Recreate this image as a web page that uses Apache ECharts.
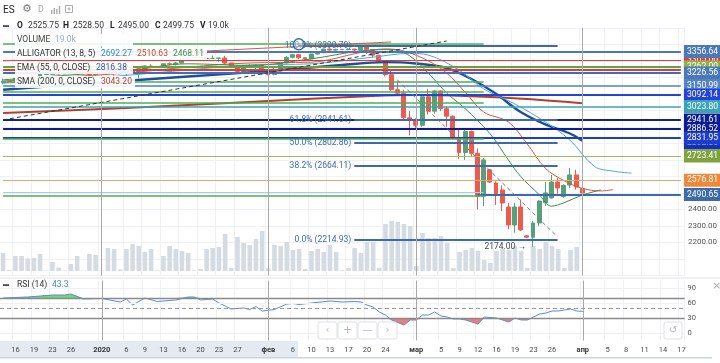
<!DOCTYPE html>
<html><head><meta charset="utf-8">
<script src="https://cdn.jsdelivr.net/npm/echarts@6/dist/echarts.min.js"></script>
<style>html,body{margin:0;padding:0;background:#fff;}#c{width:720px;height:363px;}</style>
</head><body><div id="c"></div>
<script>
const dates = ['12-13','12-15','12-16','12-17','12-18','12-19','12-20','12-22','12-23','12-24','12-25','12-26','12-27','12-29','12-30','12-31',
'01-01','01-02','01-03','01-05','01-06','01-07','01-08','01-09','01-10','01-12','01-13','01-14','01-15','01-16','01-17','01-19','01-20','01-21','01-22','01-23','01-24','01-26','01-27','01-28','01-29','01-30','01-31',
'02-02','02-03','02-04','02-05','02-06','02-07','02-09','02-10','02-11','02-12','02-13','02-14','02-16','02-17','02-18','02-19','02-20','02-21','02-23','02-24','02-25','02-26','02-27','02-28',
'03-01','03-02','03-03','03-04','03-05','03-06','03-08','03-09','03-10','03-11','03-12','03-13','03-15','03-16','03-17','03-18','03-19','03-20','03-22','03-23','03-24','03-25','03-26','03-27','03-29','03-30','03-31',
'04-01','04-02','04-03','04-04','04-05','04-06','04-07','04-08','04-09','04-10','04-11','04-12','04-13','04-14','04-15','04-16','04-17'];

const opens  = [3168,3175,3176,3193,3192,3191,3205,3217,3218,3222,3221,3223,3237,3236,3235,3217,3230,3233,3257,3231,3222,3242,3233,3252,3269,3262,3263,3282,3280,3287,3312,3321,3319,3316,3314,3315,3317,3287,3262,3236,3267,3262,3275,3221,3217,3239,3287,3321,3337,3319,3312,3341,3349,3371,3365,3369,3368,3371,3365,3383,3369,3334,3294,3216,3125,3104,2955,2940,2910,3082,2995,3118,3010,2965,2830,2745,2872,2740,2480,2640,2560,2518,2415,2306,2415,2240,2232,2318,2440,2470,2566,2478,2548,2609,2525.75];
const highs  = [3192,3178,3197,3199,3199,3207,3222,3220,3227,3225,3224,3239,3246,3238,3239,3233,3235,3260,3259,3233,3244,3247,3264,3273,3279,3265,3284,3290,3294,3314,3325,3325,3323,3327,3332,3321,3330,3289,3265,3274,3283,3279,3281,3227,3259,3291,3330,3339,3339,3321,3343,3359,3374,3376,3373,3372,3375,3374,3389,3391,3371,3336,3300,3250,3180,3125,2995,2952,3088,3130,3122,3122,3020,2968,2885,2882,2878,2770,2712,2645,2570,2545,2440,2440,2460,2245,2330,2455,2566,2610,2590,2552,2651,2640,2528.5];
const lows   = [3158,3172,3174,3188,3188,3189,3200,3215,3214,3217,3219,3221,3230,3233,3211,3207,3228,3229,3210,3218,3209,3229,3194,3250,3256,3259,3259,3274,3272,3285,3310,3317,3313,3299,3311,3292,3279,3257,3224,3231,3259,3229,3214,3211,3213,3237,3284,3315,3309,3309,3307,3339,3347,3349,3359,3365,3364,3349,3363,3340,3321,3288,3205,3118,3093,2945,2848,2895,2900,2975,2980,2995,2900,2822,2705,2700,2720,2400,2420,2560,2427,2390,2280,2260,2270,2226,2174,2300,2420,2465,2495,2470,2530,2520,2495];
const closes = [3175,3176,3193,3192,3191,3205,3217,3218,3222,3221,3223,3237,3236,3235,3217,3230,3233,3257,3231,3222,3242,3233,3252,3269,3262,3263,3282,3280,3287,3312,3321,3319,3316,3314,3315,3317,3287,3262,3236,3267,3262,3275,3221,3217,3239,3287,3321,3337,3319,3312,3341,3349,3371,3365,3369,3368,3371,3365,3383,3369,3334,3294,3216,3125,3104,2955,2940,2910,3082,2995,3118,3010,2965,2830,2745,2872,2740,2480,2700,2566,2487,2439,2306,2415,2276,2232,2318,2451,2500,2566,2530,2545,2609,2536,2499.75];
const volumes = [1080,60,900,900,750,780,1020,30,540,210,30,420,900,30,1020,960,30,1380,1320,90,1320,1620,1500,1140,1320,40,900,1500,1320,1200,1080,40,120,1320,1380,1440,2220,180,2040,1680,1560,1920,2400,160,1560,1500,1740,1260,1320,120,1200,1320,1140,1560,1140,40,180,1380,1080,1740,1740,200,2820,3000,2940,2820,2700,300,2280,1980,1980,2100,1680,180,1140,1260,1380,1200,660,480,1200,1320,1260,1500,1200,180,1500,1320,1740,1500,1320,180,1260,1440,19];

const sma200 = [[0,2984],[20,3014],[40,3051],[60,3087],[67,3093],[75,3087],[85,3069],[94,3043.2]];
const ema55  = [[0,3125],[16,3168],[30,3205],[43,3238],[55,3275],[62,3292],[67,3284],[72,3256],[76,3190],[80,3100],[84,2990],[88,2915],[92,2860],[94,2816.38]];
const jaw    = [[0,3165],[10,3185],[20,3212],[30,3245],[40,3275],[50,3282],[60,3322],[66,3345],[69,3335],[74,3244],[78,3130],[83,3040],[88,2930],[92,2820],[96,2660],[99,2632],[102,2620]];
const teeth  = [[0,3178],[10,3202],[20,3226],[30,3262],[40,3287],[50,3292],[58,3350],[62,3372],[65,3360],[69,3300],[72,3226],[75,3110],[78,2990],[82,2930],[85,2800],[88,2650],[91,2575],[94,2528],[97,2512],[99,2520]];
const lips   = [[0,3185],[10,3212],[20,3238],[30,3282],[40,3272],[50,3312],[58,3360],[63,3368],[66,3330],[69,3226],[72,3105],[75,3010],[79,2860],[82,2700],[84,2600],[87,2490],[89,2420],[91,2440],[94,2487],[97,2518]];

const rsi = [[0,70],[2,71],[4,72],[6,74],[8,76],[10,76],[11,78],[13,68],[16,69],[19,62],[20,68],[21,56],[23,70],[25,63],[28,66],[30,72],[31,72],[32,66],[34,68],[35,60],[37,48],[39,50],[40,47],[41,53],[42,44],[44,47],[46,58],[47,59],[48,57],[50,60],[53,64],[55,62],[57,63],[58,62],[59,56],[60,52],[61,42],[62,36],[63,26],[65,16],[66,26],[67,26],[68,36],[69,36],[70,42],[71,34],[72,32],[73,28],[74,28],[75,26],[77,18],[78,32],[80,30],[82,22],[83,30],[84,26],[85,26],[86,32],[87,38],[88,40],[89,44],[90,44],[91,46],[92,48],[93,44],[94,43.3]];

const tickDates = ['12-16','12-19','12-23','12-26','01-01','01-06','01-09','01-13','01-16','01-20','01-23','01-27','02-02','02-06','02-10','02-13','02-17','02-20','02-24','03-01','03-05','03-09','03-12','03-16','03-19','03-23','03-26','04-01','04-05','04-08','04-11','04-14','04-17'];
const tickTexts = ['16','19','23','26','2020','6','9','13','16','20','23','27','фев','6','10','13','17','20','24','мар','5','9','12','16','19','23','26','апр','5','8','11','14','17'];
const monthDates = ['01-01','02-02','03-01','04-01'];

const levelPrices = [3401.9,3356.64,3305,3262,3245,3226.56,3172,3150.99,3111,3092.14,3044.6,3023.80,2941.61,2886.52,2831.95,2826,2723.41,2576.81,2507,2490.65,2483];
const levelStart  = ['12-13','12-13','12-13','12-13','12-13','12-13','12-13','12-13','12-13','12-13','12-13','12-13','12-13','12-13','12-13','12-13','12-13','12-13','12-13','03-12','12-13'];
const levelEnd    = ['03-13','04-17','04-17','04-17','04-17','04-17','03-13','04-17','03-13','04-17','03-13','04-17','04-17','04-17','04-17','03-13','04-17','04-17','03-13','04-17','03-13'];

const tagPrices = [3305,3262,3356.64,3226.56,3150.99,3092.14,3023.80,2941.61,2886.52,2802.86,2831.95,2723.41,2576.81,2490.65];

const fibRatios = ['100.0%','61.8%','50.0%','38.2%','0.0%'];
const fibPrices = [3390.79,2941.61,2802.86,2664.11,2214.93];
const fibStart = '02-18', fibEnd = '03-27', fibAnchor = ['02-07', 3400];

const trendBlack = [['12-13',2942],['03-06',3420]];
const trendGray  = [['02-26',3184],['03-27',2233]];
const trendRed   = [['12-13',3300],['02-25',3414]];
const lowMark = ['03-23', 2174];

/* ---------- styles ---------- */
const FONT = 'Roboto, "Liberation Sans", sans-serif';
const GREEN='#4caf50', RED='#e53935';
const levelStyle = {
 3401.9:[GREEN,1.5],3356.64:['#4a78b8',2],3305:[RED,1.2],3262:['#5aa845',2],3245:[RED,2],3226.56:['#3f6fb5',2],
 3172:[GREEN,1.5],3150.99:['#4f7fc4',1.5],3111:[GREEN,1.5],3092.14:['#2443d8',2],3044.6:[GREEN,1.5],3023.80:['#3aa3b5',1.5],
 2941.61:['#10208f',2],2886.52:['#0c1c94',2],2831.95:['#1d3dcc',2],2826:[GREEN,1.5],2723.41:['#9dbf5a',1],2576.81:['#f2a36b',1],
 2507:['#a9c9ee',1],2490.65:['#3d6aaa',2],2483:[GREEN,1.5]};
const tagColor = {3305:RED,3262:'#8fb04a',3356.64:'#4a78b8',3226.56:'#4a78b8',3150.99:'#5584c6',3092.14:'#2443d8',3023.80:'#3aa3b5',
 2941.61:'#0d1c8e',2886.52:'#0c1c94',2802.86:'#1530b0',2831.95:'#1d3dcc',2723.41:'#7fa23c',2576.81:'#f0883a',2490.65:'#3d6aaa'};

const tickSet = new Set(tickDates);
const tickMap = {}; tickDates.forEach((d,i)=>tickMap[d]=tickTexts[i]);
const boldTicks = new Set(['2020','фев','мар','апр']);

const nBars = closes.length;
const candleData = closes.map((c,i)=>[opens[i],c,lows[i],highs[i]]);

const mlData = [];
levelPrices.forEach((p,i)=>{
  const st = levelStyle[p];
  mlData.push([{coord:[levelStart[i],p],lineStyle:{color:st[0],width:st[1],type:'solid',opacity:1}},{coord:[levelEnd[i],p]}]);
});
fibPrices.forEach((p,i)=>{
  mlData.push([{coord:[fibStart,p],lineStyle:{color:'#3d6aaa',width:2,type:'solid',opacity:1},
    label:{show:true,position:'start',distance:3,formatter:fibRatios[i]+' ('+p.toFixed(2)+')',color:'#3d6aaa',fontSize:8.5,fontFamily:FONT}},{coord:[fibEnd,p]}]);
});
mlData.push([{coord:[fibAnchor[0],fibPrices[0]],lineStyle:{color:'#3d6aaa',width:2,type:'solid',opacity:1}},{coord:[fibStart,fibPrices[0]]}]);
mlData.push([{coord:trendBlack[0],lineStyle:{color:'#333',width:1,type:[4,3],opacity:1}},{coord:trendBlack[1]}]);
mlData.push([{coord:trendGray[0],lineStyle:{color:'#777',width:1,type:[4,3],opacity:1}},{coord:trendGray[1]}]);
mlData.push([{coord:trendRed[0],lineStyle:{color:'#d9574a',width:1,type:'solid',opacity:1}},{coord:trendRed[1]}]);
monthDates.forEach(d=>mlData.push({xAxis:d,lineStyle:{color:'#a8a8a8',width:1,type:'solid',opacity:1}}));
tagPrices.forEach(p=>{
  mlData.push({yAxis:p,lineStyle:{color:'rgba(0,0,0,0)',width:1,opacity:1},label:{show:true,position:'end',distance:0,formatter:p.toFixed(2),
    backgroundColor:tagColor[p],color:'#fff',fontSize:8.6,lineHeight:9,fontFamily:FONT,padding:[2,2,2,3]}});
});

const xBase = {type:'category',data:dates,boundaryGap:true,axisLine:{show:false},axisTick:{show:false}};
const splitX = {show:true,interval:(i,v)=>tickSet.has(v),lineStyle:{color:'#eef1f5',width:1}};

const rsiHi = rsi.map(([i,v])=>[i,Math.max(v,70)]);
const rsiLo = rsi.map(([i,v])=>[i,Math.min(v,30)]);

function maSeries(name,data,color,width){
  return {name,type:'line',xAxisIndex:0,yAxisIndex:0,data,smooth:0.35,symbol:'none',silent:true,
    lineStyle:{color,width},z:3};
}

const LEFT=-2.48, W=687.1;
const option = {
  animation:false,
  backgroundColor:'#fff',
  grid:[
    {left:LEFT,width:W,top:27.8,height:247.7},
    {left:LEFT,width:W,top:200,height:71},
    {left:LEFT,width:W,top:280.5,height:60}
  ],
  xAxis:[
    Object.assign({},xBase,{gridIndex:0,axisLabel:{show:false},splitLine:splitX}),
    Object.assign({},xBase,{gridIndex:1,axisLabel:{show:false},splitLine:{show:false}}),
    Object.assign({},xBase,{gridIndex:2,splitLine:splitX,axisLabel:{show:true,interval:(i,v)=>tickSet.has(v),
      formatter:v=>{const t=tickMap[v]||'';return boldTicks.has(t)?'{b|'+t+'}':t;},
      color:'#4a4a4a',fontSize:7.5,fontFamily:FONT,margin:6,rich:{b:{fontWeight:'bold',fontSize:7.5,color:'#333',fontFamily:FONT}}}})
  ],
  yAxis:[
    {gridIndex:0,type:'value',position:'right',min:2000,max:3500,interval:100,scale:true,
     axisLine:{show:false},axisTick:{show:false},
     axisLabel:{margin:4,fontSize:8,color:'#555',fontFamily:FONT,formatter:v=>(v>=2200&&v<=2400)?v.toFixed(2):''},
     splitLine:{show:true,lineStyle:{color:'#eef1f5'}}},
    {gridIndex:1,type:'value',min:0,max:4260,show:false,splitLine:{show:false}},
    {gridIndex:2,type:'value',position:'right',min:-15,max:105,interval:15,
     axisLine:{show:false},axisTick:{show:false},splitLine:{show:false},
     axisLabel:{margin:3,fontSize:7.5,color:'#555',fontFamily:FONT,formatter:v=>([0,30,60,90].includes(v)?String(v):'')}}
  ],
  series:[
    {name:'vol',type:'bar',xAxisIndex:1,yAxisIndex:1,data:volumes,barWidth:4.6,silent:true,
     itemStyle:{color:'#d5dbe2'},z:1},
    {name:'ES',type:'candlestick',xAxisIndex:0,yAxisIndex:0,data:candleData,barWidth:4.4,silent:true,z:2,
     itemStyle:{color:'#57a07a',color0:'#ef5a4f',borderColor:'#57a07a',borderColor0:'#ef5a4f',borderWidth:1},
     markLine:{silent:true,symbol:['none','none'],animation:false,label:{show:false},lineStyle:{type:'solid'},data:mlData,z:4},
     markPoint:{silent:true,animation:false,data:[
       {coord:fibAnchor,symbol:'circle',symbolSize:11,itemStyle:{color:'rgba(255,255,255,0.35)',borderColor:'#3d6aaa',borderWidth:1.5},label:{show:false}},
       {coord:lowMark,symbol:'circle',symbolSize:0,label:{show:true,position:'left',distance:7,formatter:lowMark[1].toFixed(2)+' →',color:'#444',fontSize:8.5,fontFamily:FONT}}
     ]}},
    maSeries('SMA200',sma200,'#b0402e',2),
    maSeries('EMA55',ema55,'#1e4f9c',2.4),
    maSeries('Jaw',jaw,'#4aa8e0',1),
    maSeries('Teeth',teeth,'#e0553a',1),
    maSeries('Lips',lips,'#3d8b4e',1),
    {name:'rsiHi',type:'line',xAxisIndex:2,yAxisIndex:2,data:rsiHi,symbol:'none',silent:true,
     lineStyle:{opacity:0},areaStyle:{origin:70,color:'#6fd86f',opacity:1},z:2},
    {name:'rsiLo',type:'line',xAxisIndex:2,yAxisIndex:2,data:rsiLo,symbol:'none',silent:true,
     lineStyle:{opacity:0},areaStyle:{origin:30,color:'#f27c7c',opacity:1},z:2},
    {name:'RSI',type:'line',xAxisIndex:2,yAxisIndex:2,data:rsi,symbol:'none',silent:true,
     lineStyle:{color:'#5a8bd6',width:1},z:3,
     markLine:{silent:true,symbol:['none','none'],animation:false,label:{show:false},data:[
       {yAxis:90,lineStyle:{color:'#eef1f5',width:1,type:'solid'}},
       {yAxis:60,lineStyle:{color:'#eef1f5',width:1,type:'solid'}},
       {yAxis:0,lineStyle:{color:'#eef1f5',width:1,type:'solid'}},
       {yAxis:70,lineStyle:{color:'#8a8a8a',width:1.3,type:'solid'}},
       {yAxis:50,lineStyle:{color:'#9a9a9a',width:1,type:[4,3]}},
       {yAxis:30,lineStyle:{color:'#8a8a8a',width:1.3,type:'solid'}},
       ...monthDates.map(d=>({xAxis:d,lineStyle:{color:'#a8a8a8',width:1,type:'solid'}}))
     ]}}
  ],
  graphic:[]
};

/* ---------- overlay texts (legend/toolbar) ---------- */
const G = option.graphic;
function T(x,y,text,o){o=o||{};G.push({type:'text',x,y,z:100,silent:true,style:{text,font:(o.bold?'bold ':'')+(o.size||8.5)+'px '+(o.family||FONT),fill:o.color||'#333',verticalAlign:'middle',textVerticalAlign:'middle',align:o.align||'left'}});}
function R(x,y,w,h,s){G.push({type:'rect',z:s.z||99,silent:true,shape:{x,y,width:w,height:h,r:s.r||0},style:{fill:s.fill||'none',stroke:s.stroke||null,lineWidth:s.lw||1,opacity:s.op==null?1:s.op}});}

// time-axis band
R(0,341,298,16,{fill:'#e3eaf2',z:-1});
R(0,357,712,1.5,{fill:'#c5d6e8',z:-1});

// toolbar
T(3,10,'ES',{size:10,color:'#222'});
T(22,9,'⚙',{size:11,color:'#777',family:'"DejaVu Sans"'});
T(38,10,'D',{size:9,color:'#aaa'});
R(51,10,1.4,4,{fill:'#aaa'});R(53.6,8,1.4,6,{fill:'#aaa'});R(56.2,9,1.4,5,{fill:'#aaa'});R(58.8,6,1.4,8,{fill:'#aaa'});
R(65.5,5.5,7,7,{stroke:'#aaa',lw:1});R(67.5,8.5,3,1,{fill:'#aaa'});R(68.5,7.5,1,3,{fill:'#aaa'});

// OHLC row
R(3,25.3,6,1.6,{fill:'#333'});
const ohlcLbl = [['O',17],['H',63],['L',110],['C',155],['V',200]];
const ohlcVal = [[opens[nBars-1].toFixed(2),28],[highs[nBars-1].toFixed(2),73],[lows[nBars-1].toFixed(2),118],[closes[nBars-1].toFixed(2),163],['19.0k',208]];
ohlcLbl.forEach(([t,x])=>T(x,26,t,{bold:true,color:'#222'}));
ohlcVal.forEach(([t,x])=>T(x,26,t,{color:'#333'}));

// indicator legend rows (with white boxes)
R(15,34,118,12,{fill:'#fff',op:0.9});
T(17,40,'VOLUME',{color:'#444'});T(55,40,'19.0k',{color:'#9ab0c4'});
R(15,48,192,12,{fill:'#fff',op:0.9});
T(17,54,'ALLIGATOR (13, 8, 5)',{color:'#333'});
T(101,54,'2692.27',{color:'#2e8ad0'});T(137,54,'2510.63',{color:'#c8452f'});T(173,54,'2468.11',{color:'#3d8b4e'});
R(15,62,118,12,{fill:'#fff',op:0.9});
T(17,68,'EMA (55, 0, CLOSE)',{color:'#333'});T(96,68,'2816.38',{color:'#2c5aa8'});
R(15,76,120,12,{fill:'#fff',op:0.9});
T(17,82,'SMA (200, 0, CLOSE)',{color:'#333'});T(101,82,'3043.20',{color:'#b0402e'});

// pane separator and RSI legend
R(0,277.5,720,1,{fill:'#e0e3eb'});
R(3,284.3,6,1.6,{fill:'#333'});
T(17,285,'RSI (14)',{color:'#333'});T(52,285,'43.3',{color:'#4a7fd0'});
T(712,286,'×',{size:11,color:'#aaa',family:'"DejaVu Sans"'});

// navigation buttons
[['‹',318],['+',338],['—',358],['›',378]].forEach(([t,x])=>{R(x,322,19,17,{fill:'#fff',stroke:'#dde1e6',lw:1,r:2});T(x+9.5,330.5,t,{size:10,color:'#b5b5b5',align:'center',family:'"DejaVu Sans"'});});
R(664,322,18,17,{fill:'#fff',stroke:'#dde1e6',lw:1,r:2});T(673,330.5,'↺',{size:10,color:'#b5b5b5',align:'center',family:'"DejaVu Sans"'});

const chart = echarts.init(document.getElementById('c'),null,{renderer:'canvas'});
chart.setOption(option);
</script></body></html>
